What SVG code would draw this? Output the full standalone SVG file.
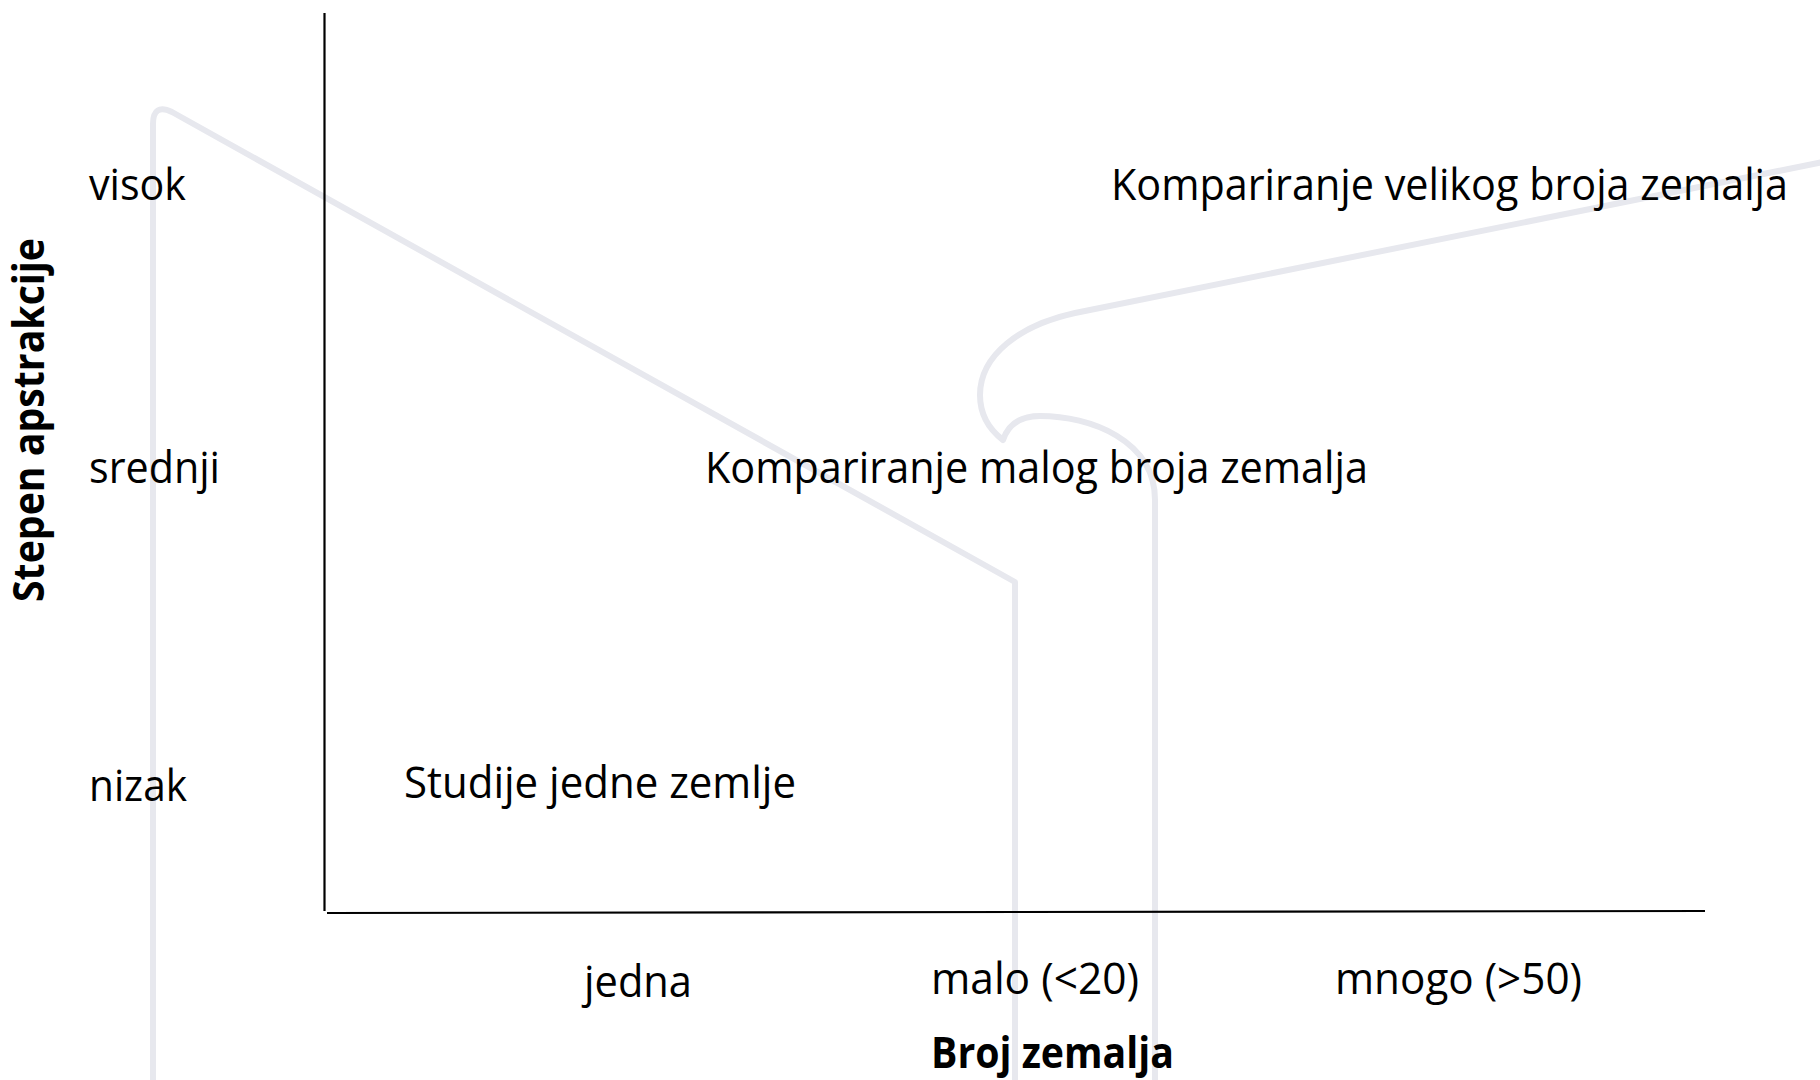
<svg xmlns="http://www.w3.org/2000/svg" width="1820" height="1080" viewBox="0 0 1820 1080">
<style>
.wm{fill:none;stroke:#e7e8ee;stroke-width:6;stroke-linecap:round;stroke-linejoin:round}
.ax{fill:none;stroke:#000;stroke-width:2.2}
.t{font-family:"Open Sans","Noto Sans","Liberation Sans",sans-serif;font-size:43px;fill:#000}
.b{font-family:"Open Sans","Noto Sans","Liberation Sans",sans-serif;font-size:43px;font-weight:bold;fill:#000}
</style>
<rect width="1820" height="1080" fill="#fff"/>
<g id="watermark">
<path class="wm" d="M153,1083 L153,124 Q153,103 172,112 L1015,582 L1015,1083"/>
<path class="wm" d="M1823,162 L1075,313 C1020,325 980,355 980,395 C980,415 990,430 1003,440 C1008,425 1020,416 1040,416 C1090,416 1155,440 1155,500 L1155,1083"/>
</g>
<g id="connectors">
<path class="ax" d="M324.5,13 L324.5,911"/>
<path class="ax" d="M327,913 L1705,911"/>
</g>
<g id="y-labels">
<text class="t" x="89" y="200" textLength="97" lengthAdjust="spacingAndGlyphs">visok</text>
<text class="t" x="89" y="483" textLength="131" lengthAdjust="spacingAndGlyphs">srednji</text>
<text class="t" x="89" y="801" textLength="98" lengthAdjust="spacingAndGlyphs">nizak</text>
</g>
<g id="node-large">
<text class="t" x="1111" y="200" textLength="677" lengthAdjust="spacingAndGlyphs">Kompariranje velikog broja zemalja</text>
</g>
<g id="node-small">
<text class="t" x="705" y="483" textLength="663" lengthAdjust="spacingAndGlyphs">Kompariranje malog broja zemalja</text>
</g>
<g id="node-single">
<text class="t" x="404" y="798" textLength="392" lengthAdjust="spacingAndGlyphs">Studije jedne zemlje</text>
</g>
<g id="x-labels">
<text class="t" x="584" y="997" textLength="108" lengthAdjust="spacingAndGlyphs">jedna</text>
<text class="t" x="931" y="994" textLength="208" lengthAdjust="spacingAndGlyphs">malo (&lt;20)</text>
<text class="t" x="1335" y="994" textLength="247" lengthAdjust="spacingAndGlyphs">mnogo (&gt;50)</text>
</g>
<g id="axis-titles">
<text class="b" x="931" y="1068" textLength="243" lengthAdjust="spacingAndGlyphs">Broj zemalja</text>
<text class="b" transform="translate(44,420) rotate(-90)" x="0" y="0" text-anchor="middle" textLength="364" lengthAdjust="spacingAndGlyphs">Stepen apstrakcije</text>
</g>
</svg>
